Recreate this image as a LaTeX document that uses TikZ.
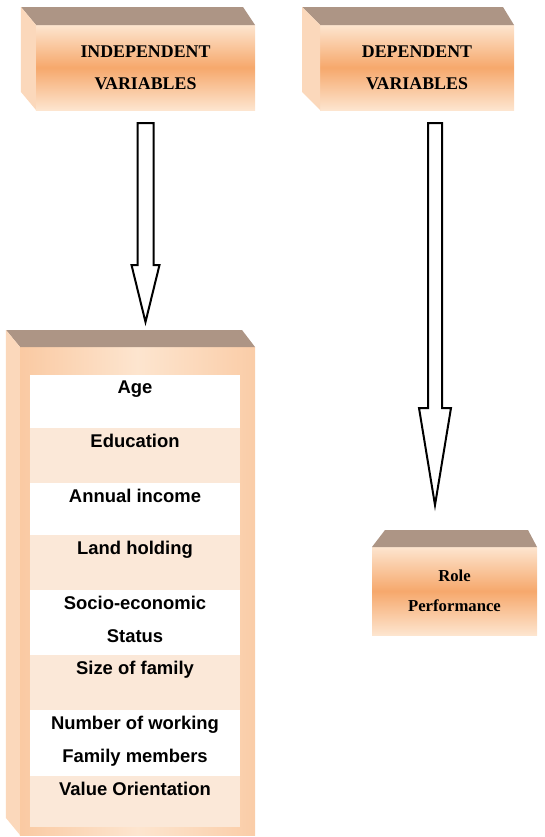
\documentclass[tikz,border=0pt]{standalone}
\usepackage{fontspec}
\setmainfont{Liberation Serif}
\setsansfont{Liberation Sans}
\usetikzlibrary{positioning, calc}

\definecolor{peach}{HTML}{FDE5CF}
\definecolor{tangerine}{HTML}{F6A86C}
\definecolor{lidbrown}{HTML}{AD9585}
\definecolor{flankpeach}{HTML}{FBD8BB}
\definecolor{band}{HTML}{FBE8D8}

\begin{document}
\begin{tikzpicture}[x=0.7pt, y=-0.7pt, thick]

	\tikzstyle{front}=[rectangle, inner sep=0pt, outer sep=0pt, top color=peach, bottom color=peach, middle color=tangerine, align=center, font=\bfseries\fontsize{12.5}{22.4}\selectfont]
	\tikzstyle{frame}=[rectangle, inner sep=0pt, outer sep=0pt, left color=tangerine!45!peach, right color=tangerine!40!peach, middle color=peach]
	\tikzstyle{lid}=[fill=lidbrown]
	\tikzstyle{flank}=[fill=flankpeach]
	\tikzstyle{rowa}=[rectangle, fill=white, inner sep=0pt, outer sep=0pt, minimum width=147pt]
	\tikzstyle{rowb}=[rectangle, fill=band, inner sep=0pt, outer sep=0pt, minimum width=147pt]
	\tikzstyle{item}=[inner sep=0pt, align=center, font=\sffamily\bfseries\fontsize{12.9}{23.1}\selectfont]
	\tikzstyle{hollow}=[draw=black, line width=1.4pt, fill=white, line join=miter]

	\useasboundingbox (0,0) rectangle (544,837);

	% variable headings
	\node[front, minimum width=153.3pt, minimum height=59.5pt] (iv) at (145.5,67.5) {INDEPENDENT\\VARIABLES};
	\node[front, minimum width=135.8pt, minimum height=59.5pt] (dv) at (417,67.5) {DEPENDENT\\VARIABLES};

	\fill[lid] (iv.north west) -- ++(-15,-18) -- ($(iv.north east)+(-12,-18)$) -- (iv.north east) -- cycle;
	\fill[flank] (iv.north west) -- ++(-15,-18) -- ($(iv.south west)+(-15,-18)$) -- (iv.south west) -- cycle;
	\fill[lid] (dv.north west) -- ++(-18,-18) -- ($(dv.north east)+(-11,-18)$) -- (dv.north east) -- cycle;
	\fill[flank] (dv.north west) -- ++(-18,-18) -- ($(dv.south west)+(-18,-18)$) -- (dv.south west) -- cycle;

	% list of independent variables
	\node[frame, minimum width=164.5pt, minimum height=341.6pt] (lst) at (137.5,591) {};
	\fill[lid] (lst.north west) -- ++(-14,-17) -- ($(lst.north east)+(-13,-17)$) -- (lst.north east) -- cycle;
	\fill[flank] (lst.north west) -- ++(-14,-17) -- ($(lst.south west)+(-14,-17)$) -- (lst.south west) -- cycle;

	\node[rowa, minimum height=37.1pt, anchor=north] (r1) at (135,375) {};
	\node[rowb, minimum height=38.5pt, below=0pt of r1] (r2) {};
	\node[rowa, minimum height=36.4pt, below=0pt of r2] (r3) {};
	\node[rowb, minimum height=38.5pt, below=0pt of r3] (r4) {};
	\node[rowa, minimum height=45.5pt, below=0pt of r4] (r5) {};
	\node[rowb, minimum height=38.5pt, below=0pt of r5] (r6) {};
	\node[rowa, minimum height=46.2pt, below=0pt of r6] (r7) {};
	\node[rowb, minimum height=35.7pt, below=0pt of r7] (r8) {};

	\node[item, below=3.8pt of r1.north] (t1) {Age};
	\node[item, below=3.8pt of r2.north] (t2) {Education};
	\node[item, below=3.8pt of r3.north] (t3) {Annual income};
	\node[item, below=3.8pt of r4.north] (t4) {Land holding};
	\node[item, below=3.8pt of r5.north] (t5) {Socio-economic\\Status};
	\node[item, below=3.8pt of r6.north] (t6) {Size of family};
	\node[item, below=3.8pt of r7.north] (t7) {Number of working\\Family members};
	\node[item, below=3.8pt of r8.north] (t8) {Value Orientation};

	% outcome
	\node[front, minimum width=115.5pt, minimum height=61.6pt, font=\bfseries\fontsize{11.7}{21}\selectfont] (rp) at (454.5,591) {Role\\Performance};
	\fill[lid] (rp.north west) -- ($(rp.north west)+(13,-17)$) -- ($(rp.north east)+(-9,-17)$) -- (rp.north east) -- cycle;

	% hollow block arrows
	\coordinate (s1) at ($(iv.south)+(0,13)$);
	\coordinate (e1) at ($(iv.south |- lst.north)+(0,-25)$);
	\draw[hollow] ($(s1)+(-8,0)$) -- ($(s1)+(8,0)$) -- ($(e1)+(8,-57)$) -- ($(e1)+(14,-57)$) -- (e1)
		-- ($(e1)+(-14,-57)$) -- ($(e1)+(-8,-57)$) -- cycle;

	\coordinate (s2) at ($(dv.south)+(18,13)$);
	\coordinate (e2) at ($(s2 |- rp.north)+(0,-42)$);
	\draw[hollow] ($(s2)+(-7,0)$) -- ($(s2)+(7,0)$) -- ($(e2)+(7,-97)$) -- ($(e2)+(16,-97)$) -- (e2)
		-- ($(e2)+(-16,-97)$) -- ($(e2)+(-7,-97)$) -- cycle;

\end{tikzpicture}
\end{document}
